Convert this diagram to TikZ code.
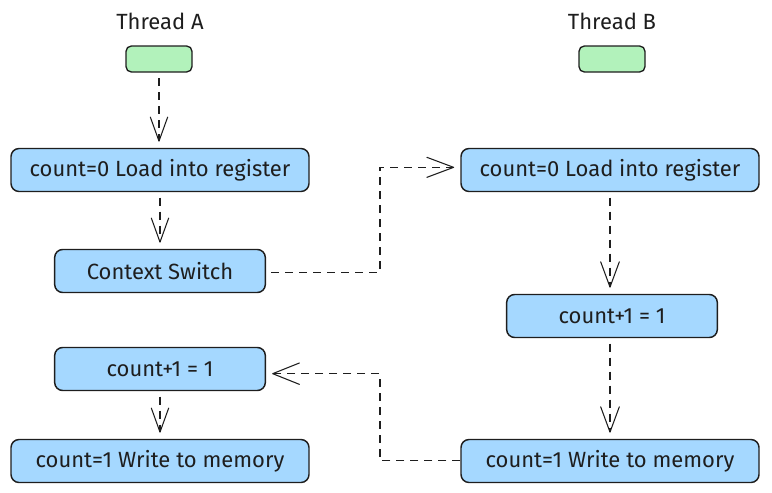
\documentclass[tikz,border=0pt]{standalone}
\usepackage{fontspec}
\setmainfont{Fira Sans}
\definecolor{boxblue}{HTML}{A5D8FF}
\definecolor{boxgreen}{HTML}{B2F2BB}
\definecolor{ink}{HTML}{1E1E1E}
\tikzset{
  wide/.style={draw=ink, line width=1.1pt, fill=boxblue, rounded corners=6pt,
    minimum width=223.5pt, minimum height=32.25pt, inner sep=0pt, text=ink,
    font=\fontsize{16.5}{18}\selectfont},
  narrow/.style={wide, minimum width=158pt},
  start/.style={draw=ink, line width=1pt, fill=boxgreen, rounded corners=4pt,
    minimum width=49.5pt, minimum height=19.5pt, inner sep=0pt},
  title/.style={font=\fontsize{16.5}{18}\selectfont, text=ink},
  dl/.style={draw=ink, line width=0.8pt, dash pattern=on 6pt off 4.5pt},
  vh/.style={draw=ink, line width=0.8pt, solid, line cap=round, line join=round},
}
\begin{document}
\begin{tikzpicture}[x=0.75pt,y=-0.75pt]
\useasboundingbox (0,0) rectangle (772,493);
\node[title] (ta) at (160,21) {Thread A};
\node[title] (tb) at (612,21) {Thread B};
\node[start] (ga) at (159,59) {};
\node[start] (gb) at (612,59) {};
\node[wide] (a1) at (160,170) {count=0 Load into register};
\node[narrow] (a2) at (160,271) {Context Switch};
\node[narrow] (a3) at (160,369) {count+1 = 1};
\node[wide] (a4) at (160,461) {count=1 Write to memory};
\node[wide] (b1) at (610,170) {count=0 Load into register};
\node[narrow] (b2) at (612,316) {count+1 = 1};
\node[wide] (b3) at (610,461) {count=1 Write to memory};
\coordinate (k) at (380,0);
% end points of the connectors
\coordinate (e1) at ([yshift=5pt]a1.north -| ga.south);
\coordinate (e2) at ([yshift=5pt]a2.north);
\coordinate (e3) at ([yshift=5pt]a4.north);
\coordinate (e4) at ([yshift=5pt]b2.north -| b1.south);
\coordinate (e5) at ([yshift=5pt]b3.north);
\coordinate (a2e) at ([xshift=4pt,yshift=-1pt]a2.east);
\coordinate (b1w) at ([xshift=-5pt,yshift=2pt]b1.west);
\coordinate (a3e) at ([xshift=5pt,yshift=-3.5pt]a3.east);
\coordinate (b3w) at ([yshift=0.4pt]b3.west);
% dashed lines
\draw[dl] ([yshift=-4pt]ga.south) -- (e1);
\draw[dl] ([yshift=-4pt]a1.south) -- (e2);
\draw[dl] ([yshift=-4pt]a3.south) -- (e3);
\draw[dl] ([yshift=-4pt]b1.south) -- (e4);
\draw[dl] ([yshift=-4pt]b2.south -| b1.south) -- (e5);
\draw[dl] (a2e) -- (k |- a2e) -- (k |- b1w) -- (b1w);
\draw[dl] (b3w) -- (k |- b3w) -- (k |- a3e) -- (a3e);
% open V arrow heads
\draw[vh] ([xshift=-6.5pt,yshift=18pt]e1) -- (e1) -- ([xshift=6.5pt,yshift=18pt]e1);
\draw[vh] ([xshift=-6.5pt,yshift=18pt]e2) -- (e2) -- ([xshift=6.5pt,yshift=18pt]e2);
\draw[vh] ([xshift=-6.5pt,yshift=18pt]e3) -- (e3) -- ([xshift=6.5pt,yshift=18pt]e3);
\draw[vh] ([xshift=-7pt,yshift=19pt]e4) -- (e4) -- ([xshift=7pt,yshift=19pt]e4);
\draw[vh] ([xshift=-7pt,yshift=19pt]e5) -- (e5) -- ([xshift=7pt,yshift=19pt]e5);
\draw[vh] ([xshift=-20pt,yshift=7.5pt]b1w) -- (b1w) -- ([xshift=-20pt,yshift=-7.5pt]b1w);
\draw[vh] ([xshift=20pt,yshift=8pt]a3e) -- (a3e) -- ([xshift=20pt,yshift=-8pt]a3e);
\end{tikzpicture}
\end{document}
